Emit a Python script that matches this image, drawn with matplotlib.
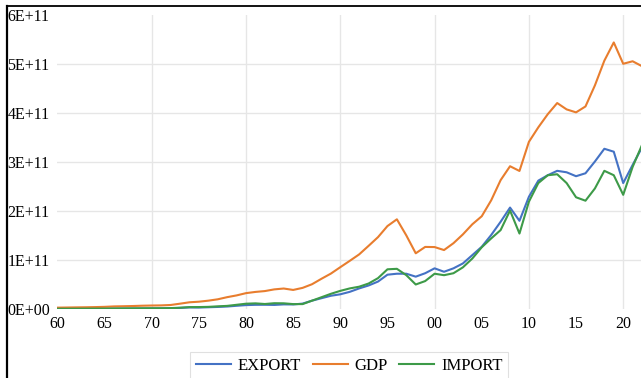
import matplotlib
matplotlib.use("Agg")
import matplotlib.pyplot as plt
from matplotlib.lines import Line2D

plt.rcParams['font.family'] = ['Liberation Serif', 'DejaVu Serif']

years = list(range(1960, 2023))

# values in units of 1E+11 US$
gdp = [0.0276, 0.0303, 0.0331, 0.0354, 0.0389, 0.0439, 0.0528, 0.0564, 0.0608, 0.0670,
       0.0709, 0.0736, 0.0818, 0.1084, 0.1370, 0.1490, 0.1699, 0.1978, 0.2415, 0.2773,
       0.3235, 0.3485, 0.3659, 0.4004, 0.4180, 0.3890, 0.4310, 0.5054, 0.6167, 0.7225,
       0.8534, 0.9823, 1.1145, 1.2889, 1.4668, 1.6928, 1.8304, 1.5018, 1.1368, 1.2667,
       1.2639, 1.2030, 1.3430, 1.5228, 1.7290, 1.8932, 2.2176, 2.6294, 2.9138, 2.8171,
       3.4111, 3.7082, 3.9756, 4.2033, 4.0734, 4.0130, 4.1337, 4.5636, 5.0675, 5.4398,
       5.0046, 5.0557, 4.9542]
export = [0.0047, 0.0052, 0.0055, 0.0060, 0.0070, 0.0078, 0.0088, 0.0088, 0.0089, 0.0097,
          0.0107, 0.0117, 0.0152, 0.0221, 0.0321, 0.0298, 0.0357, 0.0418, 0.0505, 0.0656,
          0.0794, 0.0853, 0.0862, 0.0830, 0.0939, 0.0924, 0.1100, 0.1700, 0.2200, 0.2700,
          0.3000, 0.3500, 0.4200, 0.4800, 0.5600, 0.7000, 0.7200, 0.7200, 0.6600, 0.7300,
          0.8300, 0.7600, 0.8300, 0.9300, 1.1000, 1.2700, 1.5100, 1.7800, 2.0700, 1.8000,
          2.2900, 2.6200, 2.7300, 2.8200, 2.7900, 2.7100, 2.7700, 3.0100, 3.2700, 3.2100,
          2.5700, 2.9400, 3.3000]
imports = [0.0051, 0.0055, 0.0062, 0.0071, 0.0078, 0.0087, 0.0103, 0.0123, 0.0138, 0.0150,
           0.0159, 0.0158, 0.0184, 0.0262, 0.0384, 0.0396, 0.0437, 0.0544, 0.0636, 0.0857,
           0.1080, 0.1150, 0.1020, 0.1180, 0.1160, 0.1000, 0.1000, 0.1700, 0.2400, 0.3100,
           0.3700, 0.4200, 0.4550, 0.5200, 0.6300, 0.8100, 0.8200, 0.6900, 0.5000, 0.5700,
           0.7200, 0.6900, 0.7300, 0.8500, 1.0300, 1.2600, 1.4400, 1.6100, 2.0100, 1.5400,
           2.1900, 2.5700, 2.7300, 2.7500, 2.5700, 2.2800, 2.2100, 2.4600, 2.8200, 2.7300,
           2.3300, 2.9000, 3.3500]

xtick_years = list(range(1960, 2021, 5))
xtick_labels = ['60', '65', '70', '75', '80', '85', '90', '95', '00', '05', '10', '15', '20']
ytick_vals = [0, 1, 2, 3, 4, 5, 6]
ytick_labels = ['0E+00', '1E+11', '2E+11', '3E+11', '4E+11', '5E+11', '6E+11']

W, H = 641, 378
fig = plt.figure(figsize=(W / 100, H / 100), dpi=100)
x0, y0, y1 = 57.4, 309, 15
ax = fig.add_axes([x0 / W, 1 - y0 / H, 1 - x0 / W, (y0 - y1) / H])

c_exp, c_gdp, c_imp = '#4472C4', '#E87D2E', '#3D9A48'
ax.plot(years, export, color=c_exp, lw=1.5, label='EXPORT', zorder=3)
ax.plot(years, gdp, color=c_gdp, lw=1.5, label='GDP', zorder=3)
ax.plot(years, imports, color=c_imp, lw=1.5, label='IMPORT', zorder=3)

ax.set_xlim(1960, 1960 + (W - x0) / 9.43)
ax.set_ylim(0, 6)
for s in ax.spines.values():
    s.set_visible(False)

ax.set_xticks(xtick_years)
ax.set_xticklabels(xtick_labels, fontsize=11.5)
ax.set_yticks(ytick_vals)
ax.set_yticklabels(ytick_labels, fontsize=11.5, ha='left')
ax.tick_params(axis='both', length=0)
ax.tick_params(axis='x', pad=5)
ax.tick_params(axis='y', pad=(x0 - 7.5) * 0.72)

for v in ytick_vals[1:6]:
    ax.axhline(v, color='#e6e6e6', lw=1, zorder=1)
for yr in range(1970, 2021, 10):
    ax.axvline(yr, color='#e6e6e6', lw=1, zorder=1)

leg = ax.legend(loc='upper center', bbox_to_anchor=(349.4 / W, 1 - 351.7 / H),
                bbox_transform=fig.transFigure, ncol=3, frameon=True, fancybox=False,
                fontsize=12, handlelength=2.1, handletextpad=0.4, columnspacing=0.7,
                borderpad=0.35, borderaxespad=0)
leg.get_frame().set_edgecolor('#d9d9d9')
leg.get_frame().set_linewidth(0.8)

# outer frame (left and top edges visible)
fig.add_artist(Line2D([7 / W, 7 / W], [0, 1 - 6 / H], transform=fig.transFigure,
                      color='black', lw=1.6))
fig.add_artist(Line2D([7 / W, 1], [1 - 6 / H, 1 - 6 / H], transform=fig.transFigure,
                      color='black', lw=1.3))

fig.savefig('out.png', dpi=100)
